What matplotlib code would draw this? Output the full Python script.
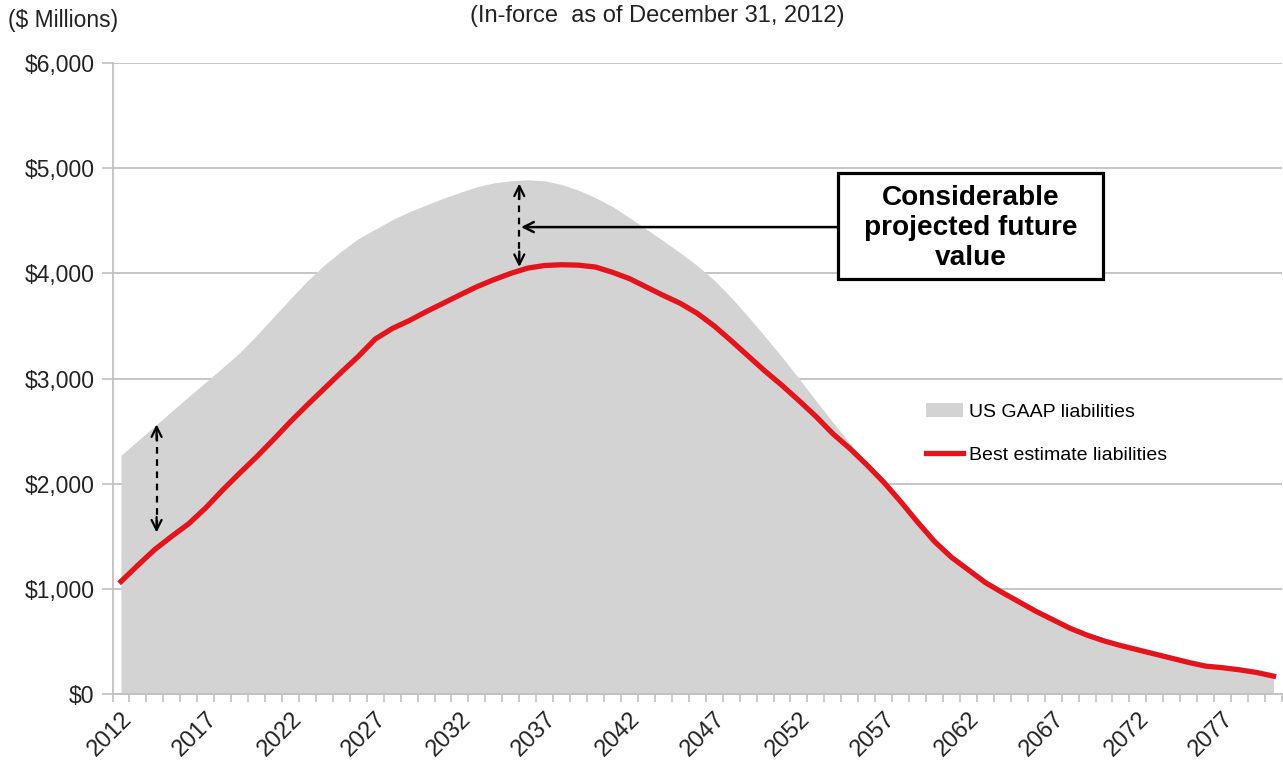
import matplotlib.pyplot as plt
from matplotlib.patches import Rectangle
import numpy as np

plt.rcParams['font.family'] = ['Liberation Sans', 'DejaVu Sans']

# projection years (category axis)
years = list(range(2012, 2081))
tick_years = ['2012', '2017', '2022', '2027', '2032', '2037', '2042',
              '2047', '2052', '2057', '2062', '2067', '2072', '2077']

# $ millions
gaap = [2270, 2410, 2550, 2690, 2830, 2965, 3105, 3245, 3410, 3585,
        3760, 3930, 4080, 4210, 4330, 4420, 4510, 4585, 4650, 4713,
        4770, 4824, 4860, 4881, 4890, 4880, 4845, 4790, 4720, 4635,
        4530, 4420, 4310, 4195, 4075, 3935, 3770, 3590, 3400, 3205,
        3000, 2790, 2585, 2385, 2200, 2025, 1845, 1645, 1460, 1310,
        1190, 1075, 975, 885, 795, 715, 635, 570, 515, 470,
        430, 390, 350, 310, 275, 260, 240, 215, 180]
best = [1070, 1225, 1375, 1500, 1620, 1770, 1940, 2100, 2255, 2420,
        2590, 2750, 2905, 3060, 3210, 3375, 3475, 3550, 3635, 3715,
        3795, 3873, 3940, 4000, 4050, 4075, 4082, 4078, 4060, 4010,
        3950, 3870, 3790, 3715, 3620, 3500, 3360, 3215, 3070, 2935,
        2790, 2640, 2475, 2335, 2180, 2015, 1830, 1635, 1450, 1300,
        1180, 1060, 965, 875, 785, 705, 625, 560, 505, 460,
        420, 380, 340, 300, 265, 250, 230, 205, 170]

x = np.arange(len(years))
grid_c = '#c0c0c0'
txt_c = '#222222'

fig, ax = plt.subplots(figsize=(12.83, 7.65), dpi=100)
fig.subplots_adjust(left=0.0877, right=0.9992, top=0.9176, bottom=0.0928)

ax.fill_between(x, 0, gaap, color='#d3d3d3', lw=0, label='US GAAP liabilities', zorder=2)
ax.plot(x, best, color='#e3141c', lw=3.8, label='Best estimate liabilities', zorder=3)

ax.set_xlim(-0.5, len(years) - 0.5)
ax.set_ylim(0, 6000)
ax.set_yticks(np.arange(0, 6001, 1000))
ax.set_yticklabels(['$0', '$1,000', '$2,000', '$3,000', '$4,000', '$5,000', '$6,000'])
ax.yaxis.grid(True, color=grid_c, lw=1.3, zorder=0)
ax.set_axisbelow(True)

# year labels every 5 years, tick marks between every category
ax.set_xticks([years.index(int(t)) for t in tick_years])
ax.set_xticklabels(tick_years, rotation=45, ha='right', rotation_mode='anchor')
ax.set_xticks(np.arange(-0.5, len(years), 1), minor=True)
ax.tick_params(axis='x', which='major', length=0, pad=10, labelsize=17, colors=txt_c)
ax.tick_params(axis='x', which='minor', length=6, color=grid_c, width=1.2)
ax.tick_params(axis='y', length=8, color=grid_c, width=1.2, labelsize=16.5, colors=txt_c, pad=5)

for s in ['top', 'right']:
    ax.spines[s].set_visible(False)
ax.spines['left'].set_color(grid_c)
ax.spines['bottom'].set_color(grid_c)
ax.spines['left'].set_linewidth(1.3)
ax.spines['bottom'].set_linewidth(1.3)

fig.text(0.006, 0.973, '($ Millions)', fontsize=16.5, color=txt_c, va='center')
fig.text(0.512, 0.979, '(In-force  as of December 31, 2012)', fontsize=17,
         color=txt_c, ha='center', va='center')

ax.legend(loc='upper left', bbox_to_anchor=(0.708, 0.496), bbox_transform=fig.transFigure,
          frameon=False, fontsize=14, handlelength=1.9, handletextpad=0.3,
          labelspacing=1.3)

# dashed gap arrows
def gap_arrow(xp, y0, y1):
    ax.plot([xp, xp], [y0 + 80, y1 - 80], color='black', lw=1.6, ls=(0, (3, 2.5)), zorder=5)
    ax.annotate('', xy=(xp, y1), xytext=(xp, y1 - 200),
                arrowprops=dict(arrowstyle='->', color='black', lw=1.6,
                                mutation_scale=18), zorder=5)
    ax.annotate('', xy=(xp, y0), xytext=(xp, y0 + 200),
                arrowprops=dict(arrowstyle='->', color='black', lw=1.6,
                                mutation_scale=18), zorder=5)

gap_arrow(2.1, 1510, 2590)
gap_arrow(23.5, 4035, 4880)

# callout box
ax.add_patch(Rectangle((42.3, 3950), 15.65, 1005, fc='white', ec='black', lw=2.3, zorder=6))
ax.text(50.12, 4431, 'Considerable\nprojected future\nvalue', ha='center', va='center',
        fontsize=20.2, fontweight='bold', linespacing=1.2, zorder=7)
ax.annotate('', xy=(23.6, 4440), xytext=(42.3, 4440),
            arrowprops=dict(arrowstyle='->', color='black', lw=1.8, mutation_scale=18,
                            shrinkA=0, shrinkB=0), zorder=6)

fig.savefig('out.png', dpi=100)
